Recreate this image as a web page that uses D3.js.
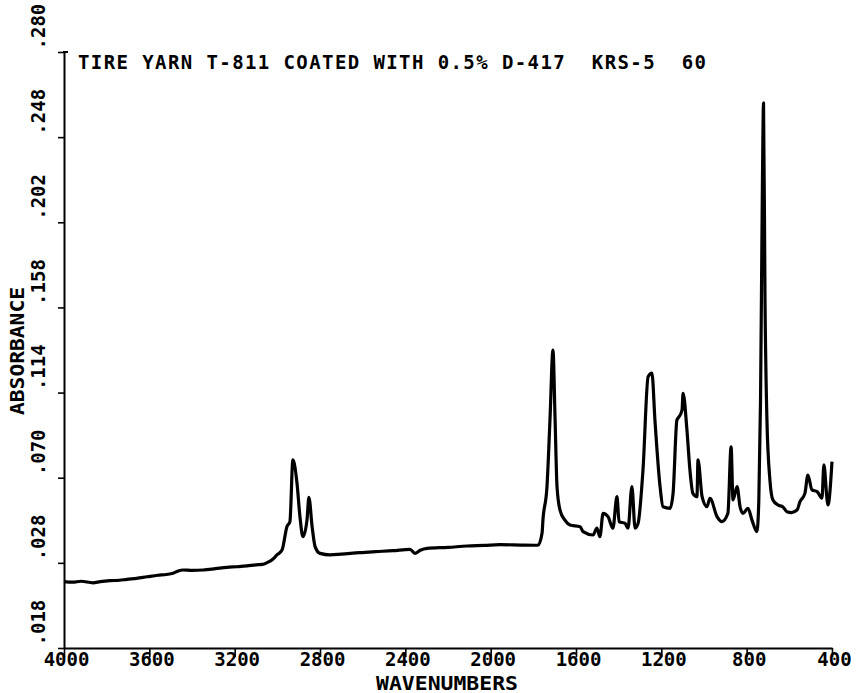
<!DOCTYPE html>
<html>
<head>
<meta charset="utf-8">
<script src="https://cdn.jsdelivr.net/npm/d3@7"></script>
<style>
  body { margin: 0; background: #fff; }
  svg { display: block; }
  text { font-family: "DejaVu Sans Mono", monospace; font-weight: bold; fill: #000; }
</style>
</head>
<body>
<div id="spectre"></div>
<script>
// taille du dessin
var W = 857, H = 693;

// donnees (nombre d'onde cm-1, absorbance)
var wavenumbers = [4000, 3960, 3920, 3864, 3830, 3784, 3740, 3705, 3660, 3611, 3560, 3520, 3489, 3465, 3442, 3400,
  3348, 3290, 3236, 3190, 3142, 3100, 3070, 3048, 3020, 3002, 2978, 2955, 2941, 2927, 2908, 2894, 2880, 2861, 2852,
  2837, 2823, 2800, 2753, 2700, 2613, 2540, 2458, 2378, 2355, 2330, 2298, 2200, 2111, 2030, 1956, 1860, 1778, 1759,
  1755, 1736, 1722, 1708, 1698, 1689, 1675, 1652, 1628, 1581, 1567, 1520, 1502, 1488, 1473, 1450, 1427, 1408, 1398,
  1370, 1356, 1338, 1323, 1309, 1286, 1262, 1244, 1230, 1206, 1192, 1159, 1145, 1127, 1117, 1103, 1098, 1080, 1066,
  1052, 1033, 1028, 1009, 986, 972, 939, 916, 888, 873, 864, 845, 831, 817, 794, 775, 752, 743, 735, 726, 721, 714,
  705, 691, 677, 653, 630, 611, 590, 564, 550, 527, 513, 494, 470, 447, 438, 423, 419, 400];

var absorbance = [0.0163, 0.0160, 0.0165, 0.0157, 0.0163, 0.0168, 0.0170, 0.0175, 0.0180, 0.0188, 0.0196, 0.0200, 0.0206, 0.0218, 0.0223, 0.0221,
  0.0223, 0.0230, 0.0237, 0.0240, 0.0244, 0.0250, 0.0252, 0.0261, 0.0280, 0.0301, 0.0326, 0.0447, 0.0473, 0.0792, 0.0673, 0.0499, 0.0395, 0.0481, 0.0599,
  0.0447, 0.0344, 0.0309, 0.0301, 0.0305, 0.0313, 0.0318, 0.0323, 0.0330, 0.0309, 0.0325, 0.0335, 0.0340, 0.0347, 0.0350, 0.0354, 0.0352, 0.0351, 0.0414,
  0.0481, 0.0654, 0.0998, 0.1360, 0.0998, 0.0654, 0.0533, 0.0481, 0.0456, 0.0447, 0.0421, 0.0404, 0.0440, 0.0395, 0.0516, 0.0499, 0.0439, 0.0602, 0.0473,
  0.0464, 0.0439, 0.0654, 0.0439, 0.0464, 0.0740, 0.1222, 0.1240, 0.0998, 0.0654, 0.0550, 0.0542, 0.0619, 0.0998, 0.1015, 0.1050, 0.1136, 0.0947, 0.0740,
  0.0619, 0.0602, 0.0792, 0.0602, 0.0550, 0.0594, 0.0499, 0.0473, 0.0516, 0.0860, 0.0585, 0.0654, 0.0550, 0.0516, 0.0542, 0.0481, 0.0421, 0.0585, 0.1102, 0.2239, 0.2637, 0.1618,
  0.0998, 0.0688, 0.0585, 0.0559, 0.0549, 0.0524, 0.0520, 0.0533, 0.0576, 0.0619, 0.0714, 0.0637, 0.0628, 0.0594, 0.0766, 0.0585, 0.0559, 0.0783];

// graduations
var xTicks = [4000, 3600, 3200, 2800, 2400, 2000, 1600, 1200, 800, 400];
var xTickLabels = ["4000", "3600", "3200", "2800", "2400", "2000", "1600", "1200", "800", "400"];
var yTicks = [-0.018, 0.026, 0.070, 0.114, 0.158, 0.202, 0.246, 0.290];
var yTickLabels = [".018", ".028", ".070", ".114", ".158", ".202", ".248", ".280"];

var titre = "TIRE YARN T-811 COATED WITH 0.5% D-417  KRS-5  60";

var svg = d3.select("#spectre")
  .append("svg")
  .attr("width", W)
  .attr("height", H);

svg.append("rect").attr("width", W).attr("height", H).attr("fill", "#fff");

var x = d3.scaleLinear().domain([4000, 400]).range([64, 832]);
var y = d3.scaleLinear().domain([-0.018, 0.290]).range([648, 52]);

// axe des x
var gx = svg.append("g")
  .attr("transform", "translate(0,648)")
  .call(d3.axisBottom(x).tickValues(xTicks).tickFormat((d, i) => xTickLabels[i]).tickSize(9).tickSizeOuter(0));
gx.select(".domain").attr("stroke-width", 2);
gx.selectAll(".tick line").attr("stroke-width", 1.6);
gx.selectAll(".tick text")
  .attr("x", 2)
  .attr("y", 5)
  .attr("font-size", 19)
  .attr("font-family", "DejaVu Sans Mono")
  .attr("font-weight", "bold");

// axe des y
var gy = svg.append("g")
  .attr("transform", "translate(64,0)")
  .call(d3.axisLeft(y).tickValues(yTicks).tickFormat((d, i) => yTickLabels[i]).tickSize(6).tickSizeOuter(0));
gy.select(".domain").attr("stroke-width", 2);
gy.selectAll(".tick line").attr("stroke-width", 1.6);
gy.selectAll(".tick text")
  .attr("transform", "rotate(-90)")
  .attr("text-anchor", "start")
  .attr("x", 3)
  .attr("y", -19)
  .attr("dy", 0)
  .attr("font-size", 19)
  .attr("font-family", "DejaVu Sans Mono")
  .attr("font-weight", "bold");

// petit retour en haut de l'axe
svg.append("line")
  .attr("x1", 63).attr("x2", 68)
  .attr("y1", y(0.290)).attr("y2", y(0.290))
  .attr("stroke", "#000").attr("stroke-width", 2);

// le spectre
var points = wavenumbers.map((w, i) => [w, absorbance[i]]);
svg.append("path")
  .datum(points)
  .attr("fill", "none")
  .attr("stroke", "#000")
  .attr("stroke-width", 3.2)
  .attr("stroke-linejoin", "round")
  .attr("d", d3.line().curve(d3.curveMonotoneX).x(d => x(d[0])).y(d => y(d[1])));

// textes
svg.append("text")
  .attr("x", 78).attr("y", 69)
  .attr("font-size", 19)
  .attr("textLength", 628)
  .attr("lengthAdjust", "spacing")
  .attr("xml:space", "preserve")
  .style("white-space", "pre")
  .text(titre);

svg.append("text")
  .attr("x", 376).attr("y", 690)
  .attr("font-size", 19)
  .attr("textLength", 142)
  .attr("lengthAdjust", "spacingAndGlyphs")
  .text("WAVENUMBERS");

svg.append("text")
  .attr("transform", "translate(24,415) rotate(-90)")
  .attr("font-size", 19)
  .attr("textLength", 128)
  .attr("lengthAdjust", "spacingAndGlyphs")
  .text("ABSORBANCE");
</script>
</body>
</html>
